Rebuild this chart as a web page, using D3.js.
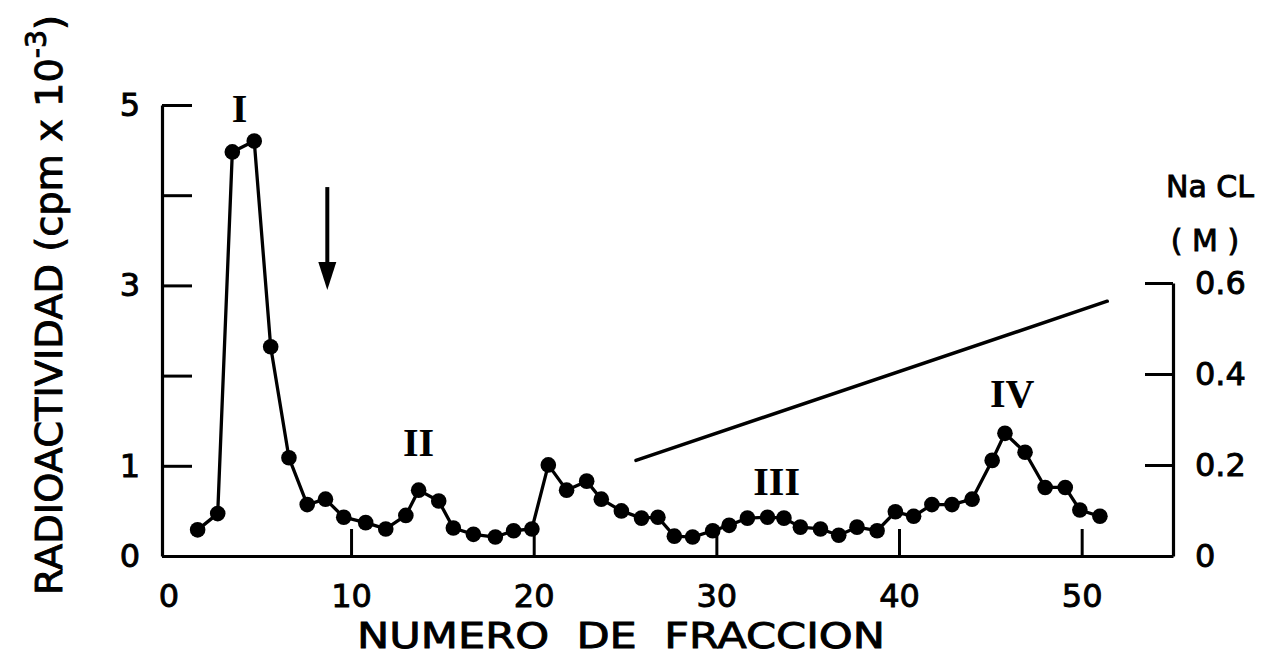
<!DOCTYPE html>
<html>
<head>
<meta charset="utf-8">
<script src="https://cdn.jsdelivr.net/npm/d3@7"></script>
<style>
  body { margin: 0; background: #fff; }
  svg { display: block; }
  text { fill: #000; stroke: #000; stroke-width: 0.9px; }
</style>
</head>
<body>
<svg id="chart"></svg>
<script>
// fraction number of every point
const fraccion = [1.6, 2.7, 3.5, 4.7, 5.6, 6.6, 7.6, 8.6, 9.6, 10.8,
  11.9, 13.0, 13.7, 14.8, 15.6, 16.7, 17.9, 18.9, 19.9, 20.8,
  21.8, 22.9, 23.7, 24.8, 25.9, 26.8, 27.7, 28.7, 29.8, 30.7,
  31.7, 32.8, 33.7, 34.6, 35.7, 36.7, 37.7, 38.8, 39.8, 40.8,
  41.8, 42.9, 44.0, 45.1, 45.8, 46.9, 48.0, 49.1, 49.9, 51.0]
// radioactivity, cpm x 10^-3
const radioactividad = [0.29, 0.47, 4.48, 4.60, 2.32, 1.09, 0.57, 0.63, 0.43, 0.37,
  0.30, 0.45, 0.73, 0.61, 0.31, 0.24, 0.21, 0.28, 0.30, 1.01,
  0.73, 0.83, 0.63, 0.50, 0.42, 0.43, 0.22, 0.21, 0.28, 0.34,
  0.42, 0.43, 0.42, 0.32, 0.30, 0.23, 0.32, 0.28, 0.49, 0.44,
  0.57, 0.57, 0.63, 1.06, 1.36, 1.15, 0.76, 0.76, 0.51, 0.44]

// NaCl gradient (M)
const gradFraccion = [25.6, 51.4]
const gradNaCl = [0.21, 0.56]

// peak labels
const picos = ["I", "II", "III", "IV"]
const picosX = [3.9, 13.7, 33.3, 46.2]
const picosY = [4.96, 1.26, 0.83, 1.80]

// arrow (start of elution)
const flechaX = 8.7
const flechaY = [4.09, 2.95]

const xTicks = [0, 10, 20, 30, 40, 50]
const yTicks = [0, 1, 2, 3, 4, 5]
const yLabels = [0, 1, 3, 5]
const y2Ticks = [0, 0.2, 0.4, 0.6]

const width = 1263, height = 659
const numFont = "'DejaVu Sans', sans-serif"

const svg = d3.select("#chart")
  .attr("width", width)
  .attr("height", height)
  .attr("viewBox", [0, 0, width, height])

const x = d3.scaleLinear().domain([-0.35, 55]).range([162, 1173])
const y = d3.scaleLinear().domain([0, 5]).range([556, 105])
const y2 = d3.scaleLinear().domain([0, 0.6]).range([556, 283])

function styleAxis(g) {
  g.attr("font-family", numFont).attr("font-size", 32)
  g.select(".domain").attr("stroke-width", 3.2)
  g.selectAll(".tick line").attr("stroke-width", 3)
}

// bottom axis
svg.append("g")
  .attr("transform", `translate(0,${y(0)})`)
  .call(d3.axisBottom(x).tickValues(xTicks).tickSize(-27).tickSizeOuter(0).tickPadding(28).tickFormat(d3.format("d")))
  .call(styleAxis)
  .call(g => g.selectAll(".tick").filter(d => d === 0).select("line").remove())

// left axis
svg.append("g")
  .attr("transform", `translate(${x(-0.35)},0)`)
  .call(d3.axisLeft(y).tickValues(yTicks).tickSize(-30).tickSizeOuter(0).tickPadding(22)
    .tickFormat(d => yLabels.includes(d) ? d : ""))
  .call(styleAxis)

// right axis
svg.append("g")
  .attr("transform", `translate(${x(55)},0)`)
  .call(d3.axisRight(y2).tickValues(y2Ticks).tickSize(-28).tickSizeOuter(0).tickPadding(22)
    .tickFormat(d => d === 0 ? "0" : d3.format(".1f")(d)))
  .call(styleAxis)

// data line and dots
const pts = fraccion.map((f, i) => ({f, v: radioactividad[i]}))
const line = d3.line().x(d => x(d.f)).y(d => y(d.v))

svg.append("path")
  .datum(pts)
  .attr("fill", "none")
  .attr("stroke", "#000")
  .attr("stroke-width", 3.3)
  .attr("stroke-linejoin", "round")
  .attr("d", line)

svg.append("g")
  .selectAll("circle")
  .data(pts)
  .join("circle")
  .attr("cx", d => x(d.f))
  .attr("cy", d => y(d.v))
  .attr("r", 7.8)
  .attr("fill", "#000")

// NaCl gradient
svg.append("path")
  .datum(gradFraccion.map((f, i) => ({f, c: gradNaCl[i]})))
  .attr("fill", "none")
  .attr("stroke", "#000")
  .attr("stroke-width", 3.5)
  .attr("stroke-linecap", "round")
  .attr("d", d3.line().x(d => x(d.f)).y(d => y2(d.c)))

// arrow
const ax = x(flechaX), ay0 = y(flechaY[0]), ay1 = y(flechaY[1])
svg.append("line")
  .attr("x1", ax).attr("x2", ax)
  .attr("y1", ay0).attr("y2", ay1 - 20)
  .attr("stroke", "#000").attr("stroke-width", 4)
svg.append("path")
  .attr("d", `M${ax - 9},${ay1 - 28}L${ax + 9},${ay1 - 28}L${ax},${ay1}Z`)
  .attr("fill", "#000")

// peak numerals
svg.append("g")
  .selectAll("text")
  .data(picos)
  .join("text")
  .attr("x", (d, i) => x(picosX[i]))
  .attr("y", (d, i) => y(picosY[i]))
  .attr("text-anchor", "middle")
  .attr("dominant-baseline", "central")
  .attr("font-family", "'Liberation Serif', serif")
  .attr("font-weight", "bold")
  .attr("font-size", 40)
  .style("stroke-width", "0px")
  .text(d => d)

// axis titles
svg.append("text")
  .attr("x", 621)
  .attr("y", 648)
  .attr("text-anchor", "middle")
  .attr("font-family", numFont)
  .attr("font-size", 36)
  .attr("textLength", 528)
  .attr("lengthAdjust", "spacingAndGlyphs")
  .style("white-space", "pre")
  .text("NUMERO  DE  FRACCION")

const yt = svg.append("text")
  .attr("transform", "translate(62,305) rotate(-90)")
  .attr("text-anchor", "middle")
  .attr("font-family", numFont)
  .attr("font-size", 38)
  .attr("textLength", 580)
  .attr("lengthAdjust", "spacingAndGlyphs")
yt.append("tspan").text("RADIOACTIVIDAD (cpm x 10")
yt.append("tspan").attr("dy", -16).attr("font-size", 28).text("-3")
yt.append("tspan").attr("dy", 16).text(")")

svg.append("text")
  .attr("x", 1210).attr("y", 197)
  .attr("text-anchor", "middle")
  .attr("font-family", numFont)
  .attr("font-size", 30)
  .text("Na CL")
svg.append("text")
  .attr("x", 1205).attr("y", 251)
  .attr("text-anchor", "middle")
  .attr("font-family", numFont)
  .attr("font-size", 30)
  .style("white-space", "pre")
  .text("( M )")
</script>
</body>
</html>
